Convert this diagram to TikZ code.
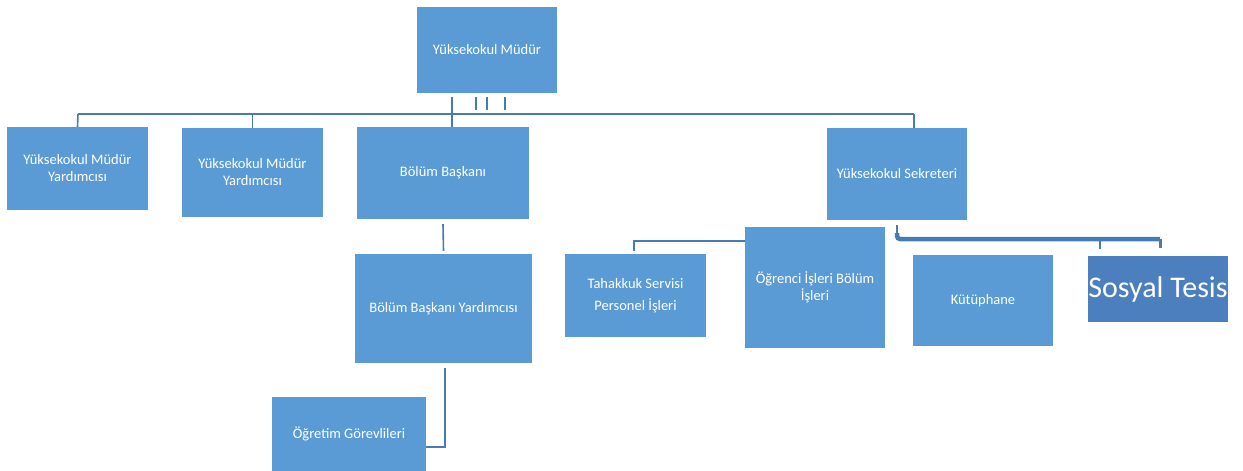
\documentclass[tikz,border=0pt]{standalone}
\usepackage{fontspec}
\setmainfont{Carlito}
\definecolor{boxblue}{RGB}{91,155,213}
\definecolor{darkblue}{RGB}{76,127,190}
\definecolor{linkblue}{RGB}{72,122,180}
\begin{document}
\begin{tikzpicture}[x=1pt, y=-1pt,
  unit/.style={fill=boxblue, text=white, inner sep=0pt, align=center,
    font=\fontsize{14.5}{17}\selectfont},
  link/.style={draw=linkblue, line width=1.6pt}]
\useasboundingbox[fill=white] (0,0) rectangle (1243,471);
\node[unit, minimum width=140, minimum height=86] (mudur) at (487,50) {Yüksekokul Müdür};
\node[unit, minimum width=141, minimum height=83] (my1) at (77.5,168.5) {Yüksekokul Müdür\\Yardımcısı};
\node[unit, minimum width=141, minimum height=89] (my2) at (252.5,172.5) {Yüksekokul Müdür\\Yardımcısı};
\node[unit, minimum width=172, minimum height=92] (bb) at (443,173) {Bölüm Başkanı};
\node[unit, minimum width=140, minimum height=92] (sek) at (897,174) {Yüksekokul Sekreteri};
\node[unit, minimum width=177, minimum height=109] (bby) at (443.5,308.5) {Bölüm Başkanı Yardımcısı};
\node[unit, minimum width=154, minimum height=74] (ogr) at (349,434) {Öğretim Görevlileri};
\node[unit, minimum width=141, minimum height=83, font=\fontsize{14.5}{22}\selectfont] (tah) at (635.5,295.5) {Tahakkuk Servisi\\Personel İşleri};
\node[unit, minimum width=140, minimum height=121] (ogi) at (815,287.5) {Öğrenci İşleri Bölüm\\İşleri};
\node[unit, minimum width=140, minimum height=91] (kut) at (983,300.5) {Kütüphane};
\node[unit, fill=darkblue, minimum width=138, minimum height=66, font=\fontsize{30}{32}\selectfont] (sos) at (1158,289) {Sosyal Tesis};
\coordinate (busL) at (78,114);
\coordinate (busR) at (914,114);
\coordinate (m1) at (452,97);
\coordinate (s1) at (897,225);
\coordinate (s2) at (1160,239);
\coordinate (t1) at (634,241);
\coordinate (b1) at (445,368);
\draw[link, line width=2.5pt] (busL) -- (busR);
\draw[link] (busL) -- (my1.north);
\draw[link] (busL -| my2.north) -- (my2.north);
\draw[link] (busR) -- (busR |- sek.north);
\draw[link] (m1) -- (m1 |- bb.north);
\foreach \x in {476,487,505}
  \draw[link] (\x,97) -- (\x,110);
\draw[link] ([yshift=-5pt]bb.south) -- ([yshift=3pt]bby.north);
\draw[link] (b1) |- ([yshift=-13pt]ogr.east);
\draw[link] (s1) -- ++(0,9);
\draw[link, line width=4.5pt, rounded corners=3pt] ([yshift=-8pt]s1) |- (s2);
\draw[link, line width=3pt] (s2) -- ++(0,9);
\draw[link] (s2 -| 1100,0) -- (1100,249);
\draw[link] (t1 -| ogi.west) -- (t1) -- ([yshift=3pt]t1 |- tah.north);
\end{tikzpicture}
\end{document}
